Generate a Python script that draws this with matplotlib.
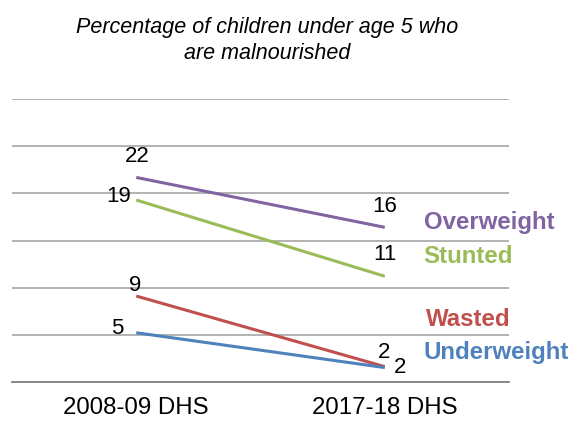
import matplotlib
matplotlib.use("Agg")
import matplotlib.pyplot as plt

plt.rcParams['font.family'] = ['Liberation Sans', 'DejaVu Sans']

categories = ["2008-09 DHS", "2017-18 DHS"]
overweight = [21.7, 16.4]
stunted = [19.3, 11.2]
wasted = [9.1, 1.6]
underweight = [5.2, 1.5]
series_names = ["Overweight", "Stunted", "Wasted", "Underweight"]
title = "Percentage of children under age 5 who\nare malnourished"

colors = {"Overweight": "#8064a2", "Stunted": "#9bbb59",
          "Wasted": "#c0504d", "Underweight": "#4f81bd"}
series = {"Overweight": overweight, "Stunted": stunted,
          "Wasted": wasted, "Underweight": underweight}

W, H = 573, 421
fig = plt.figure(figsize=(W / 100, H / 100), dpi=100)
ax = fig.add_axes([12 / W, 1 - 381.7 / H, (509 - 12) / W, (381.7 - 99.3) / H])

x = list(range(len(categories)))
for name in series_names:
    ax.plot(x, series[name], color=colors[name], lw=2.2, solid_capstyle='butt', zorder=3)

ax.set_xlim(-0.5, 1.5)
ax.set_ylim(0, 30)
ax.set_yticks([5, 10, 15, 20, 25, 30])
ax.yaxis.grid(True, color="#a6a6a6", lw=1.2)
ax.set_axisbelow(True)
ax.tick_params(axis='y', left=False, labelleft=False)
ax.set_xticks(x)
ax.set_xticklabels(categories, fontsize=17.3)
ax.tick_params(axis='x', length=0, pad=11)
for s in ["left", "right", "top"]:
    ax.spines[s].set_visible(False)
ax.spines["bottom"].set_color("#7f7f7f")
ax.spines["bottom"].set_linewidth(1.3)

# value labels: (series, index, offset px, ha)
label_specs = [
    ("Overweight", 0, (1, 21), 'center'),
    ("Stunted", 0, (-5, 4), 'right'),
    ("Wasted", 0, (-1, 11), 'center'),
    ("Underweight", 0, (-13, 4), 'right'),
    ("Overweight", 1, (0, 21), 'center'),
    ("Stunted", 1, (0, 22), 'center'),
    ("Wasted", 1, (-1, 14), 'center'),
    ("Underweight", 1, (15, 0), 'center'),
]
for name, i, off, ha in label_specs:
    v = series[name][i]
    ax.annotate(f"{v:.0f}", xy=(x[i], v), xytext=off, textcoords='offset pixels',
                ha=ha, va='center', fontsize=16, color='black', annotation_clip=False)

name_offsets = {"Overweight": (39, 5), "Stunted": (39, 20),
                "Wasted": (41, 47), "Underweight": (39, 15)}
for name in series_names:
    v = series[name][1]
    ax.annotate(name, xy=(x[1], v), xytext=name_offsets[name], textcoords='offset pixels',
                ha='left', va='center', fontsize=17.3, fontweight='bold',
                color=colors[name], annotation_clip=False)

fig.text(267.6 / W, 1 - 40.5 / H, title, ha='center', va='center', fontsize=15.5,
         style='italic', linespacing=1.3)

fig.savefig("out.png", dpi=100)
